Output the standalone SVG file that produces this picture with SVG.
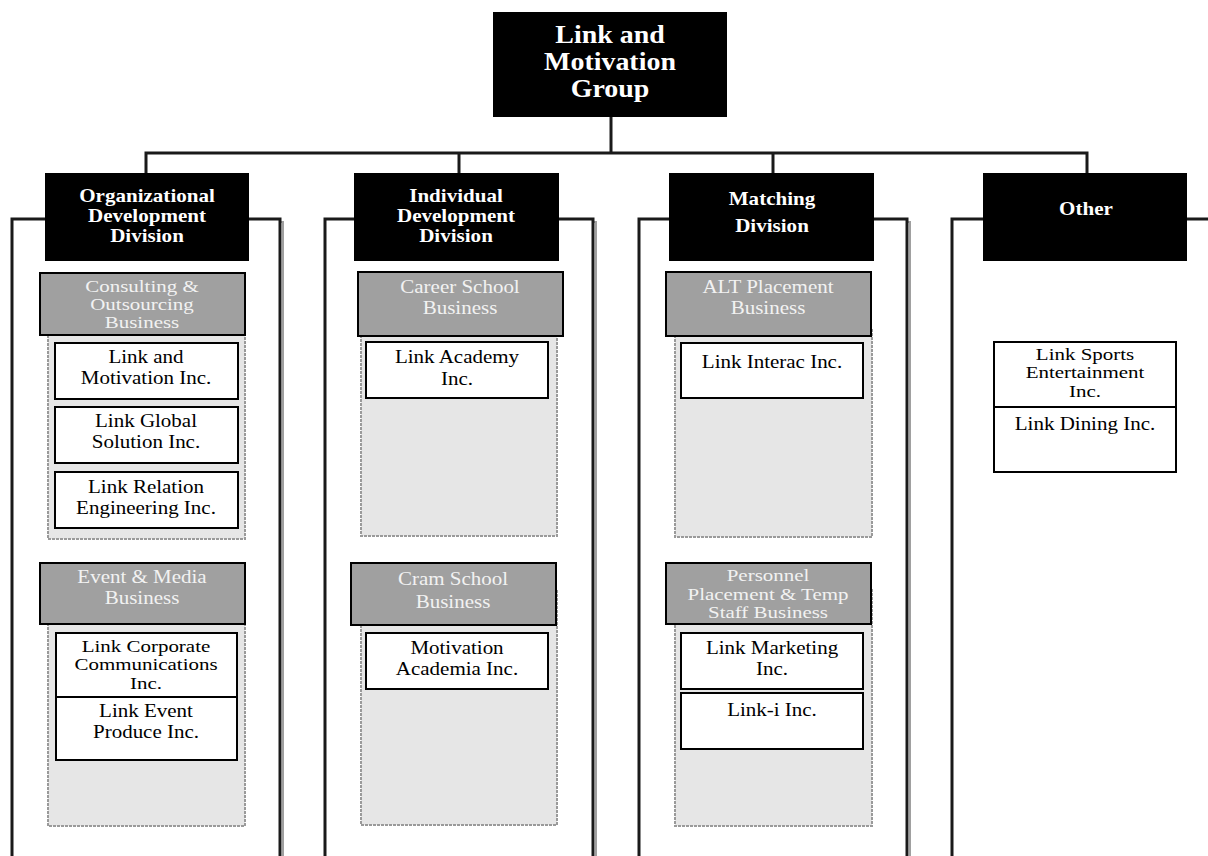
<svg xmlns="http://www.w3.org/2000/svg" width="1208" height="856" viewBox="0 0 1208 856">
<style>
text{font-family:"Liberation Serif","Times New Roman",serif;text-anchor:middle}
.hd{fill:#000}
.ht{fill:#fff;font-weight:bold;font-size:18px}
.top{fill:#fff;font-weight:bold;font-size:24.5px}
.frame{fill:#fff;stroke:#1a1a1a;stroke-width:3}
.shadow{fill:none;stroke:#a0a0a0;stroke-width:2}
.biz{fill:#a0a0a0;stroke:#000;stroke-width:2}
.bt{fill:#f2f2f2;font-size:18.5px}
.bt3{fill:#f2f2f2;font-size:16.5px}
.cont{fill:#e6e6e6;stroke:#9a9a9a;stroke-width:2;stroke-dasharray:3 1}
.co{fill:#fff;stroke:#000;stroke-width:2}
.ct{fill:#000;font-size:18.5px}
.ct3{fill:#000;font-size:16.5px}
.conn{fill:none;stroke:#1a1a1a;stroke-width:3}
</style>
<rect width="1208" height="856" fill="#fff"/>
<g id="connectors">
<polyline class="conn" points="611,117 611,153"/>
<polyline class="conn" points="146,174 146,153 1087,153 1087,174"/>
<line class="conn" x1="459" y1="153" x2="459" y2="174"/>
<line class="conn" x1="773" y1="153" x2="773" y2="174"/>
</g>
<g id="frames">
<rect class="shadow" x="15" y="222" width="268" height="650"/>
<rect class="frame" x="12" y="219" width="268" height="650"/>
<rect class="shadow" x="328" y="222" width="268" height="650"/>
<rect class="frame" x="325" y="219" width="268" height="650"/>
<rect class="shadow" x="642" y="222" width="268" height="650"/>
<rect class="frame" x="639" y="219" width="268" height="650"/>
<rect class="shadow" x="955" y="222" width="268" height="650"/>
<rect class="frame" x="952" y="219" width="268" height="650"/>
</g>
<g id="root">
<rect class="hd" x="493" y="12" width="234" height="105"/>
<text class="top" transform="translate(610 43) scale(1.14 1)">Link and</text>
<text class="top" transform="translate(610 70) scale(1.14 1)">Motivation</text>
<text class="top" transform="translate(610 97) scale(1.14 1)">Group</text>
</g>
<g id="div-org">
<rect class="hd" x="45" y="173" width="204" height="88"/>
<text class="ht" transform="translate(147 202) scale(1.17 1)">Organizational</text>
<text class="ht" transform="translate(147 222) scale(1.17 1)">Development</text>
<text class="ht" transform="translate(147 242) scale(1.17 1)">Division</text>
</g>
<g id="div-ind">
<rect class="hd" x="354" y="173" width="205" height="88"/>
<text class="ht" transform="translate(456 202) scale(1.17 1)">Individual</text>
<text class="ht" transform="translate(456 222) scale(1.17 1)">Development</text>
<text class="ht" transform="translate(456 242) scale(1.17 1)">Division</text>
</g>
<g id="div-match">
<rect class="hd" x="669" y="173" width="205" height="88"/>
<text class="ht" transform="translate(772 205) scale(1.17 1)">Matching</text>
<text class="ht" transform="translate(772 232) scale(1.17 1)">Division</text>
</g>
<g id="div-other">
<rect class="hd" x="983" y="173" width="204" height="88"/>
<text class="ht" transform="translate(1086 215) scale(1.17 1)">Other</text>
</g>
<g id="biz-consulting">
<rect class="cont" x="48" y="330" width="197" height="209"/>
<rect class="biz" x="40" y="273" width="205" height="62"/>
<text class="bt3" transform="translate(142 292) scale(1.27 1)">Consulting &amp;</text>
<text class="bt3" transform="translate(142 310) scale(1.27 1)">Outsourcing</text>
<text class="bt3" transform="translate(142 328) scale(1.27 1)">Business</text>
</g>
<g id="co-lm"><rect class="co" x="55" y="343" width="183" height="56"/><text class="ct" transform="translate(146 363) scale(1.135 1)">Link and</text><text class="ct" transform="translate(146 384) scale(1.135 1)">Motivation Inc.</text></g>
<g id="co-lgs"><rect class="co" x="55" y="407" width="183" height="56"/><text class="ct" transform="translate(146 427) scale(1.135 1)">Link Global</text><text class="ct" transform="translate(146 448) scale(1.135 1)">Solution Inc.</text></g>
<g id="co-lre"><rect class="co" x="55" y="472" width="183" height="56"/><text class="ct" transform="translate(146 493) scale(1.135 1)">Link Relation</text><text class="ct" transform="translate(146 514) scale(1.135 1)">Engineering Inc.</text></g>
<g id="biz-event">
<rect class="cont" x="48" y="620" width="197" height="206"/>
<rect class="biz" x="40" y="563" width="205" height="61"/>
<text class="bt" transform="translate(142 583) scale(1.135 1)">Event &amp; Media</text>
<text class="bt" transform="translate(142 604) scale(1.135 1)">Business</text>
</g>
<g id="co-lcc"><rect class="co" x="56" y="633" width="181" height="64"/><text class="ct3" transform="translate(146 652) scale(1.27 1)">Link Corporate</text><text class="ct3" transform="translate(146 670) scale(1.27 1)">Communications</text><text class="ct3" transform="translate(146 689) scale(1.27 1)">Inc.</text></g>
<g id="co-lep"><rect class="co" x="56" y="697" width="181" height="63"/><text class="ct" transform="translate(146 717) scale(1.135 1)">Link Event</text><text class="ct" transform="translate(146 738) scale(1.135 1)">Produce Inc.</text></g>
<g id="biz-career">
<rect class="cont" x="361" y="330" width="196" height="206"/>
<rect class="biz" x="358" y="272" width="205" height="64"/>
<text class="bt" transform="translate(460 293) scale(1.135 1)">Career School</text>
<text class="bt" transform="translate(460 314) scale(1.135 1)">Business</text>
</g>
<g id="co-la"><rect class="co" x="366" y="342" width="182" height="56"/><text class="ct" transform="translate(457 363) scale(1.135 1)">Link Academy</text><text class="ct" transform="translate(457 385) scale(1.135 1)">Inc.</text></g>
<g id="biz-cram">
<rect class="cont" x="361" y="590" width="196" height="235"/>
<rect class="biz" x="351" y="563" width="205" height="62"/>
<text class="bt" transform="translate(453 585) scale(1.135 1)">Cram School</text>
<text class="bt" transform="translate(453 608) scale(1.135 1)">Business</text>
</g>
<g id="co-ma"><rect class="co" x="366" y="633" width="182" height="56"/><text class="ct" transform="translate(457 654) scale(1.135 1)">Motivation</text><text class="ct" transform="translate(457 675) scale(1.135 1)">Academia Inc.</text></g>
<g id="biz-alt">
<rect class="cont" x="675" y="330" width="197" height="207"/>
<rect class="biz" x="666" y="272" width="205" height="64"/>
<text class="bt" transform="translate(768 293) scale(1.135 1)">ALT Placement</text>
<text class="bt" transform="translate(768 314) scale(1.135 1)">Business</text>
</g>
<g id="co-li"><rect class="co" x="681" y="343" width="182" height="55"/><text class="ct" transform="translate(772 368) scale(1.135 1)">Link Interac Inc.</text></g>
<g id="biz-personnel">
<rect class="cont" x="675" y="590" width="197" height="236"/>
<rect class="biz" x="666" y="563" width="205" height="61"/>
<text class="bt3" transform="translate(768 581) scale(1.27 1)">Personnel</text>
<text class="bt3" transform="translate(768 600) scale(1.27 1)">Placement &amp; Temp</text>
<text class="bt3" transform="translate(768 618) scale(1.27 1)">Staff Business</text>
</g>
<g id="co-lmk"><rect class="co" x="681" y="633" width="182" height="56"/><text class="ct" transform="translate(772 654) scale(1.135 1)">Link Marketing</text><text class="ct" transform="translate(772 675) scale(1.135 1)">Inc.</text></g>
<g id="co-lii"><rect class="co" x="681" y="693" width="182" height="56"/><text class="ct" transform="translate(772 716) scale(1.135 1)">Link-i Inc.</text></g>
<g id="co-lse"><rect class="co" x="994" y="342" width="182" height="65"/><text class="ct3" transform="translate(1085 360) scale(1.27 1)">Link Sports</text><text class="ct3" transform="translate(1085 378) scale(1.27 1)">Entertainment</text><text class="ct3" transform="translate(1085 397) scale(1.27 1)">Inc.</text></g>
<g id="co-ld"><rect class="co" x="994" y="407" width="182" height="65"/><text class="ct" transform="translate(1085 430) scale(1.135 1)">Link Dining Inc.</text></g>
</svg>
